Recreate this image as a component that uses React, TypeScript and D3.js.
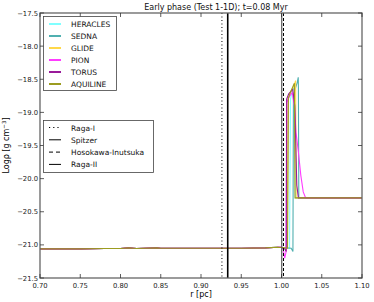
import React from 'react';
import * as d3 from 'd3';

// radius grid for the early-phase profiles (pc)
const baseR = [0.70, 0.72, 0.75, 0.78, 0.80, 0.81, 0.82, 0.845, 0.85, 0.88, 0.90, 0.95, 0.98, 0.995];
const baseV = [-21.06, -21.06, -21.06, -21.055, -21.055, -21.045, -21.055, -21.045, -21.05, -21.05, -21.05, -21.05, -21.045, -21.035];

const heraclesR = [1.0, 1.010, 1.0112, 1.013, 1.0165, 1.0172, 1.10];
const heraclesV = [-21.04, -21.05, -18.8, -18.7, -18.6, -20.29, -20.29];
const sednaR = [1.0, 1.012, 1.0142, 1.0148, 1.017, 1.0195, 1.0208, 1.021, 1.0215, 1.10];
const sednaV = [-21.04, -21.05, -21.1, -18.75, -18.65, -18.55, -18.47, -18.62, -20.29, -20.29];
const glideR = [1.0, 1.007, 1.0082, 1.011, 1.0155, 1.0175, 1.0182, 1.10];
const glideV = [-21.04, -21.05, -18.8, -18.7, -18.6, -18.52, -20.29, -20.29];
const pionR = [1.0, 1.002, 1.004, 1.0058, 1.0066, 1.009, 1.0132, 1.016, 1.018, 1.021, 1.024, 1.027, 1.03, 1.10];
const pionV = [-21.03, -21.05, -21.2, -21.1, -18.85, -18.78, -18.7, -18.9, -19.3, -19.6, -19.95, -20.2, -20.29, -20.29];
const torusR = [1.0, 1.004, 1.0058, 1.0064, 1.009, 1.014, 1.0165, 1.019, 1.021, 1.10];
const torusV = [-21.04, -21.06, -21.1, -18.8, -18.72, -18.65, -18.9, -20.1, -20.29, -20.29];
const aquilineR = [1.0, 1.0075, 1.0086, 1.011, 1.0145, 1.016, 1.0168, 1.10];
const aquilineV = [-21.04, -21.05, -18.78, -18.7, -18.6, -18.56, -20.29, -20.29];

const seriesNames = ['HERACLES', 'SEDNA', 'GLIDE', 'PION', 'TORUS', 'AQUILINE'];
const seriesColors = ['#80ffff', '#50b0b0', '#ffd84a', '#ff3cff', '#991a99', '#9c9c20'];
const seriesR = [heraclesR, sednaR, glideR, pionR, torusR, aquilineR];
const seriesV = [heraclesV, sednaV, glideV, pionV, torusV, aquilineV];

// analytic front positions (pc)
const frontNames = ['Raga-I', 'Spitzer', 'Hosokawa-Inutsuka', 'Raga-II'];
const frontR = [0.926, 0.9332, 1.0025, 1.0003];
const frontDash = ['1,2.5', '', '3,2', ''];
const legendDash = ['1.2,3', '', '4,3', ''];
const frontWidth = [1, 1.6, 1, 1.2];
const frontColor = ['#000', '#000', '#000', '#555'];

const xTicks = [0.70, 0.75, 0.80, 0.85, 0.90, 0.95, 1.00, 1.05, 1.10];
const yTicks = [-21.5, -21.0, -20.5, -20.0, -19.5, -19.0, -18.5, -18.0, -17.5];

const W = 374, H = 302;
const margin = { left: 40, right: 12, top: 13, bottom: 24 };

const fmt = (v: number) => v.toFixed(2);
const fmtY = (v: number) => v.toFixed(1).replace('-', '\u2212');

export default function App() {
  const x = d3.scaleLinear().domain([0.7, 1.1]).range([margin.left, W - margin.right]);
  const y = d3.scaleLinear().domain([-21.5, -17.5]).range([H - margin.bottom, margin.top]);
  const line = d3.line<[number, number]>().x(d => x(d[0])).y(d => y(d[1]));
  const font = "'DejaVu Sans', sans-serif";

  const buildPts = (i: number): [number, number][] => {
    const base = baseR.map((r, k) => [r, baseV[k]] as [number, number]);
    return base.concat(seriesR[i].map((r, k) => [r, seriesV[i][k]] as [number, number]));
  };

  const x0 = x.range()[0], x1 = x.range()[1];
  const y0 = y.range()[0], y1 = y.range()[1];

  return (
    <svg width={W} height={H} style={{ position: 'absolute', left: 0, top: 0, background: '#fff' }} fontFamily={font}>
      <defs>
        <clipPath id="plot">
          <rect x={x0} y={y1} width={x1 - x0} height={y0 - y1} />
        </clipPath>
      </defs>
      <text x={216} y={10} fontSize={8} textAnchor="middle" fill="#111">Early phase (Test 1-1D); t=0.08 Myr</text>

      <g clipPath="url(#plot)">
        {seriesNames.map((n, i) => (
          <path key={n} d={line(buildPts(i)) || ''} fill="none" stroke={seriesColors[i]} strokeWidth={1.1} />
        ))}
        {frontNames.map((n, i) => (
          <line key={n} x1={x(frontR[i])} x2={x(frontR[i])} y1={y1} y2={y0}
            stroke={frontColor[i]} strokeWidth={frontWidth[i]} strokeDasharray={frontDash[i] || undefined} />
        ))}
      </g>

      {/* frame */}
      <rect x={x0} y={y1} width={x1 - x0} height={y0 - y1} fill="none" stroke="#666" strokeWidth={1.3} />

      {xTicks.map(t => (
        <g key={'x' + t}>
          <line x1={x(t)} x2={x(t)} y1={y0} y2={y0 - 4} stroke="#333" strokeWidth={0.8} />
          <line x1={x(t)} x2={x(t)} y1={y1} y2={y1 + 4} stroke="#333" strokeWidth={0.8} />
          <text x={x(t)} y={y0 + 10} fontSize={6.8} textAnchor="middle" fill="#222">{fmt(t)}</text>
        </g>
      ))}
      {yTicks.map(t => (
        <g key={'y' + t}>
          <line x1={x0} x2={x0 + 4} y1={y(t)} y2={y(t)} stroke="#333" strokeWidth={0.8} />
          <line x1={x1} x2={x1 - 4} y1={y(t)} y2={y(t)} stroke="#333" strokeWidth={0.8} />
          <text x={x0 - 2} y={y(t) + 2.5} fontSize={6.8} textAnchor="end" fill="#222">{fmtY(t)}</text>
        </g>
      ))}

      <text x={201} y={297} fontSize={8} textAnchor="middle">r [pc]</text>
      <text transform={`translate(9,${(y0 + y1) / 2}) rotate(-90)`} fontSize={8} textAnchor="middle">
        Log{'\u03c1'} [g cm<tspan dy={-3} fontSize={5.5}>{'\u22123'}</tspan><tspan dy={3}>]</tspan>
      </text>

      {/* code legend */}
      <rect x={43.5} y={16.5} width={73} height={74} fill="#fff" stroke="#444" strokeWidth={0.8} />
      {seriesNames.map((n, i) => (
        <g key={'lg' + n}>
          <line x1={49} x2={61} y1={24 + i * 12} y2={24 + i * 12} stroke={seriesColors[i]} strokeWidth={2} />
          <text x={71} y={27 + i * 12} fontSize={7.5} fill="#111">{n}</text>
        </g>
      ))}

      {/* analytic legend */}
      <rect x={43.5} y={120.5} width={110} height={52} fill="#fff" stroke="#444" strokeWidth={0.8} />
      {frontNames.map((n, i) => (
        <g key={'lf' + n}>
          <line x1={49} x2={61} y1={127.5 + i * 12.3} y2={127.5 + i * 12.3} stroke="#000"
            strokeWidth={1} strokeDasharray={legendDash[i] || undefined} />
          <text x={71} y={130.5 + i * 12.3} fontSize={7.5} fill="#111">{n}</text>
        </g>
      ))}
    </svg>
  );
}
